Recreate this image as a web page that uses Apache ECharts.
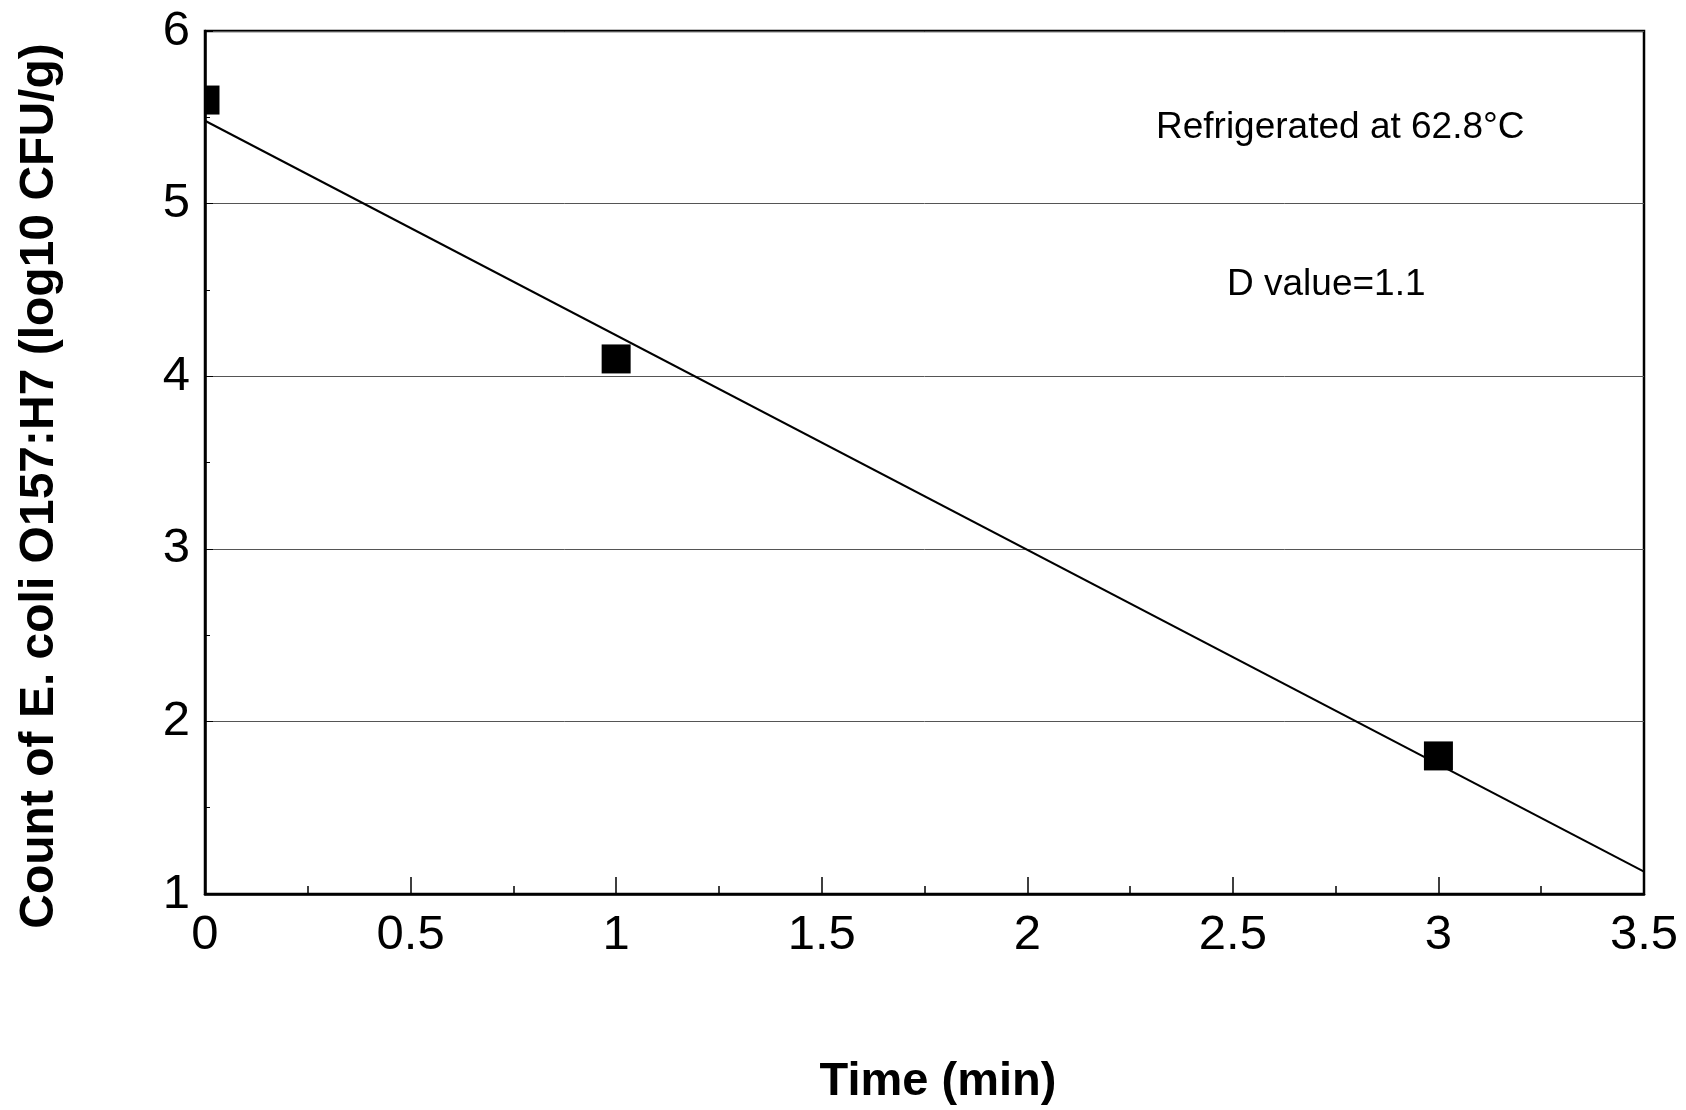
<!DOCTYPE html>
<html>
<head>
<meta charset="utf-8">
<title>E. coli O157:H7 survival at 62.8°C</title>
<script src="https://cdn.jsdelivr.net/npm/echarts@6/dist/echarts.min.js"></script>
<style>
    body { margin: 0; background: #fff; }
    #chart { width: 1686px; height: 1110px; }
</style>
</head>
<body>
<div id="chart"></div>
<script>
// measured points
var timeMin = [0, 1, 3];
var countLog = [5.6, 4.1, 1.8];

// fitted regression line, ends of the plotted range
var fitTime = [0, 3.5];
var fitCount = [5.48, 1.13];

var FONT = '"Liberation Sans", Arial, sans-serif';

var chart = echarts.init(document.getElementById('chart'));

chart.setOption({
    animation: false,
    backgroundColor: '#fff',
    grid: {
        left: 205, top: 31, right: 42, bottom: 216,
        show: true, borderColor: '#000', borderWidth: 2.5
    },
    xAxis: {
        type: 'value', min: 0, max: 3.5, interval: 0.5,
        axisLine: { lineStyle: { color: '#000', width: 2.5 } },
        axisTick: { inside: true, length: 17, lineStyle: { color: '#000', width: 1.5 } },
        minorTick: { show: true, splitNumber: 2, length: 8, lineStyle: { color: '#000', width: 1.5 } },
        axisLabel: { color: '#000', fontSize: 49, fontFamily: FONT, margin: 17 },
        splitLine: { show: false }
    },
    yAxis: {
        type: 'value', min: 1, max: 6, interval: 1,
        axisLine: { show: true, lineStyle: { color: '#000', width: 2.5 } },
        axisTick: { show: true, inside: true, length: 8, lineStyle: { color: '#000' } },
        minorTick: { show: true, splitNumber: 2, length: 5, lineStyle: { color: '#000' } },
        axisLabel: { color: '#000', fontSize: 49, fontFamily: FONT, margin: 15 },
        splitLine: { show: true, lineStyle: { color: '#555', width: 1 } }
    },
    series: [
        {
            type: 'line',
            data: fitTime.map(function (t, i) { return [t, fitCount[i]]; }),
            symbol: 'none',
            lineStyle: { color: '#000', width: 2 },
            z: 2
        },
        {
            type: 'custom',
            data: timeMin.map(function (t, i) { return [t, countLog[i]]; }),
            z: 3,
            renderItem: function (params, api) {
                var p = api.coord([api.value(0), api.value(1)]);
                var s = 29;
                var cs = params.coordSys;
                var rect = echarts.graphic.clipRectByRect(
                    { x: p[0] - s / 2, y: p[1] - s / 2, width: s, height: s },
                    { x: cs.x, y: cs.y, width: cs.width, height: cs.height }
                );
                if (!rect) return null;
                return { type: 'rect', shape: rect, style: { fill: '#000' } };
            }
        }
    ],
    graphic: [
        {
            type: 'text', left: 1156, top: 109,
            style: { text: 'Refrigerated at 62.8°C', fontSize: 37, fontFamily: FONT, fill: '#000' }
        },
        {
            type: 'text', left: 1227, top: 266,
            style: { text: 'D value=1.1', fontSize: 37, fontFamily: FONT, fill: '#000' }
        },
        {
            type: 'text', x: 938, y: 1082,
            style: {
                text: 'Time (min)', fontSize: 47, fontWeight: 'bold', fontFamily: FONT,
                fill: '#000', align: 'center', verticalAlign: 'middle'
            }
        },
        {
            type: 'text', x: 40, y: 486, rotation: Math.PI / 2,
            style: {
                text: 'Count of E. coli O157:H7 (log10 CFU/g)', fontSize: 48, fontWeight: 'bold',
                fontFamily: FONT, fill: '#000', align: 'center', verticalAlign: 'middle'
            }
        }
    ]
});
</script>
</body>
</html>
